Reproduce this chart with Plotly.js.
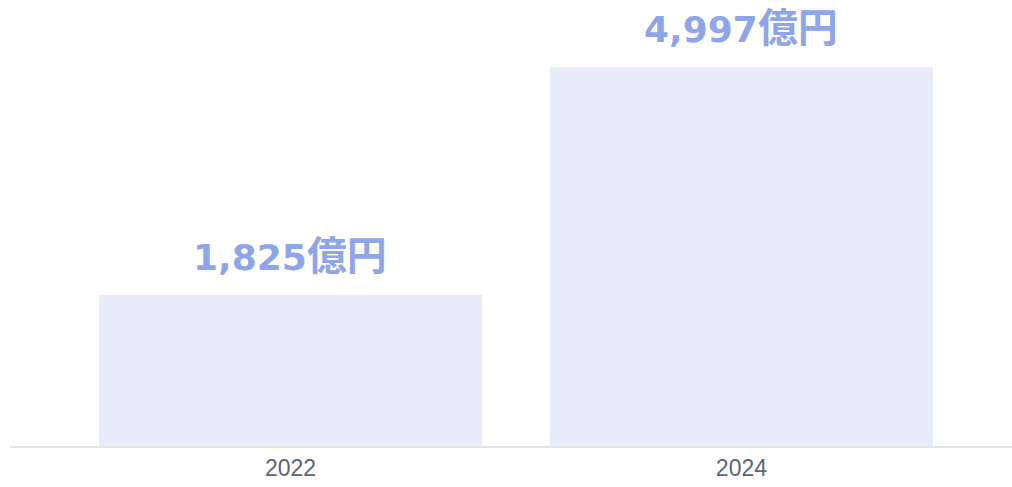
<!DOCTYPE html>
<html>
<head>
<meta charset="utf-8">
<script src="https://cdn.plot.ly/plotly-3.0.1.min.js"></script>
<style>html,body{margin:0;padding:0;background:#fff;}#chart{width:1012px;height:487px;}</style>
</head>
<body>
<div id="chart"></div>
<script>
const years = ["2022", "2024"];
const values = [1825, 4997];
const valueText = ["1,825", "4,997"];
const unit = "億円";

const AXIS_MIN = -275;
const AXIS_MAX = 5930;

const trace = {
  type: "bar",
  x: years,
  y: values.map(v => v - AXIS_MIN),
  base: AXIS_MIN,
  width: 0.849,
  marker: {color: "#e8ebf9"},
  hoverinfo: "skip"
};

const annotations = years.map((yr, i) => ({
  x: i, y: values[i], xref: "x", yref: "y",
  text: '<span style="font-family:\'DejaVu Sans\';font-size:36px">' + valueText[i] + '</span>' + unit,
  showarrow: false, yanchor: "bottom", yshift: 11,
  font: {family: "'Noto Sans CJK JP', sans-serif", size: 40, color: "#8fa5ea", weight: 700}
}));

const layout = {
  width: 1012, height: 487,
  margin: {l: 10, r: 0, t: 0, b: 41},
  paper_bgcolor: "#ffffff", plot_bgcolor: "#ffffff",
  showlegend: false,
  xaxis: {
    type: "category",
    range: [-0.622, 1.600],
    showline: true, linecolor: "#e3e3e3", linewidth: 2,
    showgrid: false, zeroline: false, ticks: "",
    tickfont: {family: "'Liberation Sans', Arial, sans-serif", size: 23, color: "#5b6479"},
    fixedrange: true
  },
  yaxis: {
    range: [AXIS_MIN, AXIS_MAX],
    visible: false, showgrid: false, zeroline: false, fixedrange: true
  },
  annotations: annotations
};

Plotly.newPlot("chart", [trace], layout, {displayModeBar: false, staticPlot: true});
</script>
</body>
</html>
